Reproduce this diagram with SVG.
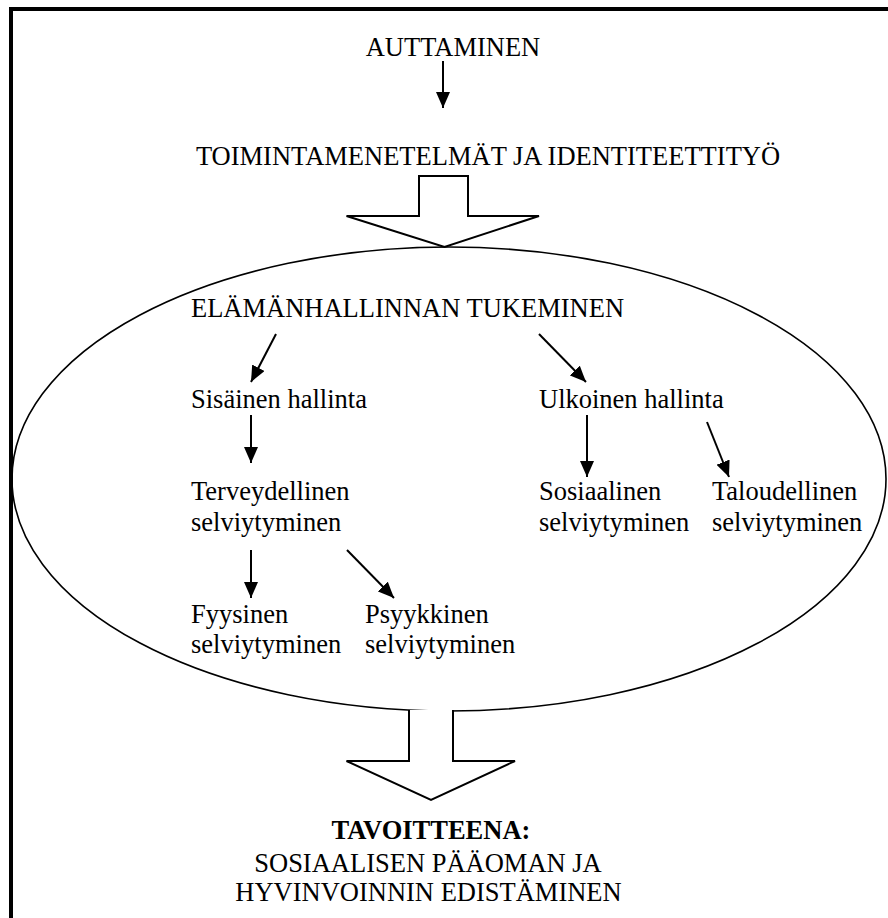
<svg xmlns="http://www.w3.org/2000/svg" width="888" height="918" viewBox="0 0 888 918">
<style>
.b{font-weight:bold}
.m{text-anchor:middle}
.c{stroke:#000;stroke-width:2;fill:none}
.big{stroke:#000;stroke-width:2;fill:#fff;stroke-linejoin:miter}
</style>
<defs>
<marker id="ah" markerUnits="userSpaceOnUse" markerWidth="16" markerHeight="14" refX="16" refY="7" orient="auto">
<path d="M0,0 L16,7 L0,14 z" fill="#000"/>
</marker>
</defs>
<rect width="888" height="918" fill="#fff"/>
<path d="M11,930 L11,9 L900,9" fill="none" stroke="#000" stroke-width="4"/>
<g id="ellipse-node">
<ellipse cx="449" cy="479" rx="437" ry="232" fill="none" stroke="#000" stroke-width="1.6"/>
</g>
<g id="n-auttaminen"><text class="m" font-family="Liberation Serif" font-size="26.5" x="453" y="55.5">AUTTAMINEN</text></g>
<g id="n-toiminta"><text class="m" font-family="Liberation Serif" font-size="26.5" x="488" y="165">TOIMINTAMENETELMÄT JA IDENTITEETTITYÖ</text></g>
<g id="n-tukeminen"><text font-family="Liberation Serif" font-size="26.5" x="191" y="317">ELÄMÄNHALLINNAN TUKEMINEN</text></g>
<g id="n-sisainen"><text font-family="Liberation Serif" font-size="26.5" x="191" y="408">Sisäinen hallinta</text></g>
<g id="n-ulkoinen"><text font-family="Liberation Serif" font-size="26.5" x="539" y="408">Ulkoinen hallinta</text></g>
<g id="n-terveydellinen"><text font-family="Liberation Serif" font-size="26.5" x="191" y="500">Terveydellinen</text><text font-family="Liberation Serif" font-size="26.5" x="191" y="531">selviytyminen</text></g>
<g id="n-sosiaalinen"><text font-family="Liberation Serif" font-size="26.5" x="539" y="500">Sosiaalinen</text><text font-family="Liberation Serif" font-size="26.5" x="539" y="531">selviytyminen</text></g>
<g id="n-taloudellinen"><text font-family="Liberation Serif" font-size="26.5" x="712" y="500">Taloudellinen</text><text font-family="Liberation Serif" font-size="26.5" x="712" y="531">selviytyminen</text></g>
<g id="n-fyysinen"><text font-family="Liberation Serif" font-size="26.5" x="191" y="623">Fyysinen</text><text font-family="Liberation Serif" font-size="26.5" x="191" y="653">selviytyminen</text></g>
<g id="n-psyykkinen"><text font-family="Liberation Serif" font-size="26.5" x="365" y="623">Psyykkinen</text><text font-family="Liberation Serif" font-size="26.5" x="365" y="653">selviytyminen</text></g>
<g id="n-tavoite">
<text class="m b" font-family="Liberation Serif" font-size="26.5" x="431" y="839">TAVOITTEENA:</text>
<text class="m" font-family="Liberation Serif" font-size="26.5" x="428" y="871.5">SOSIAALISEN PÄÄOMAN JA</text>
<text class="m" font-family="Liberation Serif" font-size="26.5" x="428.5" y="900.5">HYVINVOINNIN EDISTÄMINEN</text>
</g>
<g id="connectors">
<polygon class="big" points="419,176 468,176 468,216 539,216 444.5,247 346.5,216 419,216"/>
<polyline class="big" points="409,710 409,761 346.5,761 431,800 515,761 453,761 453,710"/>
<line class="c" x1="443" y1="61" x2="443" y2="108" marker-end="url(#ah)"/>
<line class="c" x1="276" y1="334" x2="251" y2="382" marker-end="url(#ah)"/>
<line class="c" x1="539" y1="334" x2="586" y2="382" marker-end="url(#ah)"/>
<line class="c" x1="251" y1="415" x2="251" y2="463" marker-end="url(#ah)"/>
<line class="c" x1="587" y1="415" x2="587" y2="477" marker-end="url(#ah)"/>
<line class="c" x1="707" y1="422" x2="729" y2="477" marker-end="url(#ah)"/>
<line class="c" x1="251" y1="550" x2="251" y2="598" marker-end="url(#ah)"/>
<line class="c" x1="347" y1="550" x2="394" y2="598" marker-end="url(#ah)"/>
</g>
</svg>
